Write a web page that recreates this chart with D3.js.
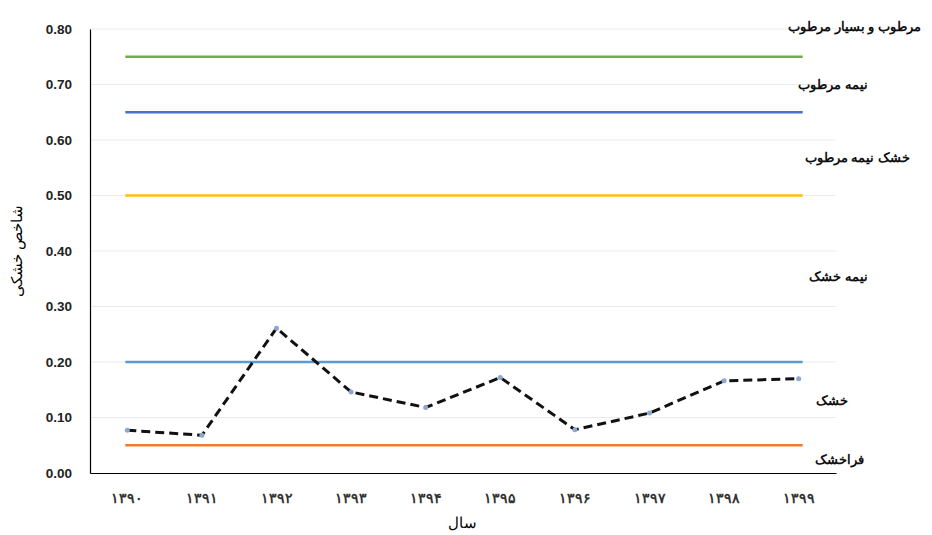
<!DOCTYPE html>
<html>
<head>
<meta charset="utf-8">
<script src="https://cdn.jsdelivr.net/npm/d3@7"></script>
<style>
  body { margin: 0; background: #fff; }
  text { font-family: "Liberation Sans", Arial, sans-serif; }
</style>
</head>
<body>
<div id="chart"></div>
<script>
// years (persian digits) and aridity index
const years = ['۱۳۹۰', '۱۳۹۱', '۱۳۹۲', '۱۳۹۳', '۱۳۹۴', '۱۳۹۵', '۱۳۹۶', '۱۳۹۷', '۱۳۹۸', '۱۳۹۹'];
const index = [0.077, 0.068, 0.261, 0.146, 0.118, 0.172, 0.078, 0.108, 0.166, 0.170];
const yTicks = [0, 0.1, 0.2, 0.3, 0.4, 0.5, 0.6, 0.7, 0.8];

// class thresholds
const bounds = [0.75, 0.65, 0.50, 0.20, 0.05];
const boundColors = ['#70AD47', '#4472C4', '#FFC000', '#5B9BD5', '#ED7D31'];
const classNames = ['مرطوب و بسیار مرطوب', 'نیمه مرطوب', 'خشک نیمه مرطوب', 'نیمه خشک', 'خشک', 'فراخشک'];
const classAt = [0.805, 0.70, 0.568, 0.355, 0.13, 0.025];

const W = 932, H = 535;
const m = {top: 29, right: 96, bottom: 62, left: 90};

const svg = d3.select('#chart').append('svg')
    .attr('width', W).attr('height', H);

const x = d3.scaleBand().domain(years).range([m.left, W - m.right]);
const y = d3.scaleLinear().domain([0, 0.8]).range([H - m.bottom, m.top]);
const cx = d => x(d) + x.bandwidth() / 2;

// grid
svg.append('g')
    .selectAll('line').data(yTicks.slice(1)).join('line')
    .attr('x1', m.left).attr('x2', W - m.right)
    .attr('y1', d => y(d)).attr('y2', d => y(d))
    .attr('stroke', '#ebebeb').attr('stroke-width', 1);

// y axis
const yAxis = svg.append('g')
    .attr('transform', `translate(${m.left},0)`)
    .call(d3.axisLeft(y).tickValues(yTicks).tickFormat(d3.format('.2f')).tickSize(0).tickPadding(18));
yAxis.select('.domain').attr('stroke', '#000').attr('stroke-width', 1.2);
yAxis.selectAll('text').attr('font-size', 13.5).attr('font-weight', 'bold').attr('fill', '#222');

// x axis
const xAxis = svg.append('g')
    .attr('transform', `translate(0,${H - m.bottom})`)
    .call(d3.axisBottom(x).tickSize(0).tickPadding(20));
xAxis.select('.domain').attr('stroke', '#000').attr('stroke-width', 1.2);
xAxis.selectAll('text').attr('font-size', 14).attr('font-weight', 'bold')
    .attr('font-family', '"DejaVu Sans", sans-serif').attr('fill', '#333');

// threshold lines
svg.append('g')
    .selectAll('line').data(bounds).join('line')
    .attr('x1', cx(years[0]) - 2).attr('x2', cx(years[years.length - 1]) + 4)
    .attr('y1', d => y(d)).attr('y2', d => y(d))
    .attr('stroke', (d, i) => boundColors[i]).attr('stroke-width', 2.5);

// class labels
svg.append('g')
    .selectAll('text').data(classNames).join('text')
    .attr('x', (d, i) => [921, 868, 910, 868, 848, 864][i])
    .attr('y', (d, i) => y(classAt[i]))
    .attr('dy', '0.35em')
    .attr('text-anchor', 'end')
    .attr('font-size', 13).attr('font-weight', 'bold')
    .attr('font-family', '"DejaVu Sans", "Noto Sans", sans-serif')
    .attr('fill', '#111')
    .text(d => d);

// index line
const line = d3.line().x((d, i) => cx(years[i])).y(d => y(d));
svg.append('path').datum(index)
    .attr('d', line)
    .attr('fill', 'none').attr('stroke', '#111')
    .attr('stroke-width', 3).attr('stroke-dasharray', '9,5');

svg.append('g')
    .selectAll('circle').data(index).join('circle')
    .attr('cx', (d, i) => cx(years[i])).attr('cy', d => y(d))
    .attr('r', 2.5).attr('fill', '#8fa7cf');

// axis titles
svg.append('text')
    .attr('transform', `translate(22,${y(0.4)}) rotate(-90)`)
    .attr('text-anchor', 'middle')
    .attr('font-size', 15).attr('font-family', '"DejaVu Sans", sans-serif')
    .text('شاخص خشکی');

svg.append('text')
    .attr('x', 462).attr('y', 528)
    .attr('text-anchor', 'middle')
    .attr('font-size', 15).attr('font-family', '"DejaVu Sans", sans-serif')
    .text('سال');
</script>
</body>
</html>
